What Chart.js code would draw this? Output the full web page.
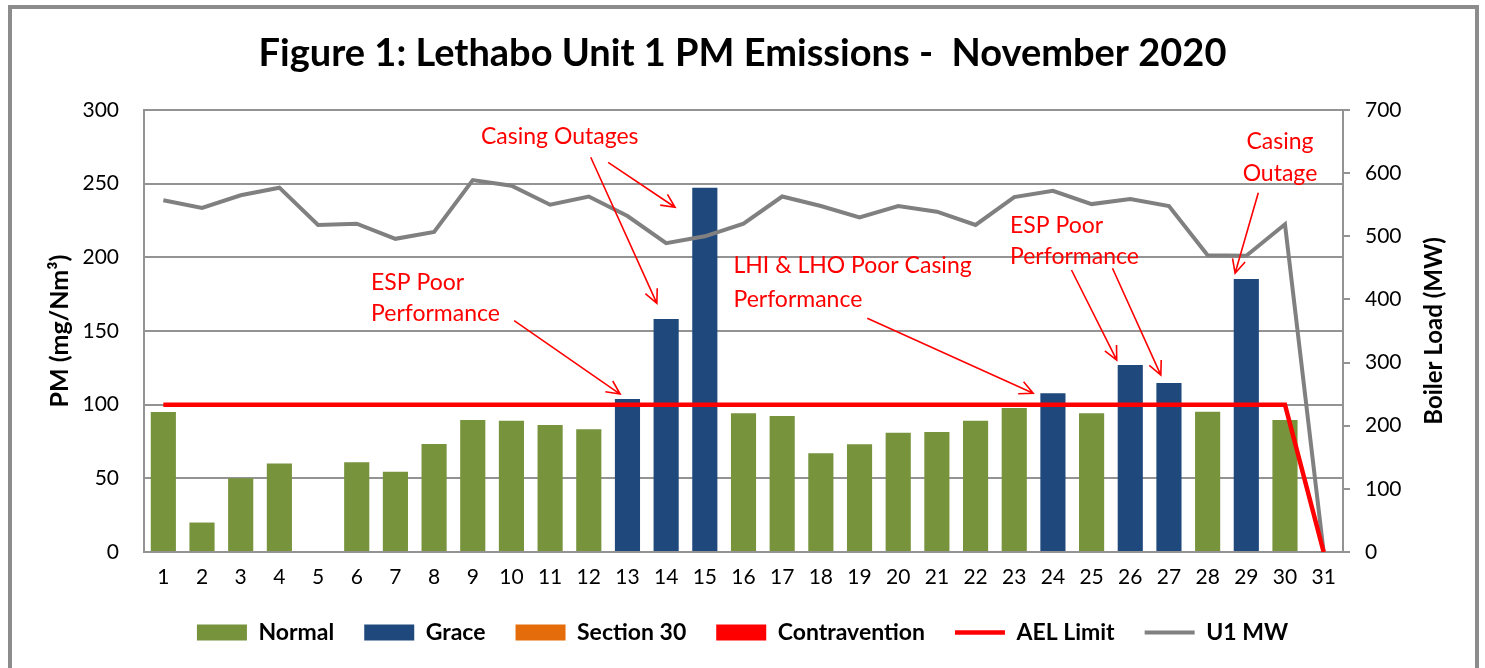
<!DOCTYPE html>
<html>
<head>
<meta charset="utf-8">
<script src="https://cdn.jsdelivr.net/npm/chart.js@4.4.1/dist/chart.umd.min.js"></script>
<style>
  html, body { margin: 0; padding: 0; background: #fff; overflow: hidden; }
  #wrap { position: relative; width: 1485px; height: 668px; }
  #chart { position: absolute; left: 0; top: 0; }
  #frame { position: absolute; left: 8px; top: 5px; width: 1471px; height: 720px; border: 4px solid #8c8c8c; box-sizing: border-box; pointer-events: none; }
</style>
</head>
<body>
<div id="wrap">
  <canvas id="chart" width="1485" height="668"></canvas>
  <div id="frame"></div>
</div>
<script>
// Lethabo Unit 1 PM emissions, November 2020.
const days = ['1','2','3','4','5','6','7','8','9','10','11','12','13','14','15','16','17','18','19','20','21','22','23','24','25','26','27','28','29','30','31'];
const normal = [95, 20, 50, 60, null, 61, 54.5, 73.3, 89.6, 89.1, 86.2, 83.3, null, null, null, 94.1, 92.3, 67, 73.1, 81, 81.4, 89.1, 97.7, null, 94.1, null, null, 95.2, null, 89.6, null];
const grace = [null, null, null, null, null, null, null, null, null, null, null, null, 103.8, 158.1, 247.3, null, null, null, null, null, null, null, null, 107.7, null, 126.9, 114.7, null, 185.3, null, null];
const section30 = days.map(() => null);
const contravention = days.map(() => null);
const aelLimit = [100, 100, 100, 100, 100, 100, 100, 100, 100, 100, 100, 100, 100, 100, 100, 100, 100, 100, 100, 100, 100, 100, 100, 100, 100, 100, 100, 100, 100, 100, 0];
const u1MW = [557, 545, 565, 577, 518, 520, 496, 507, 589, 580, 550, 563, 532, 489, 500, 520, 563, 548, 530, 548, 539, 518, 562, 572, 551, 559, 548, 470, 469, 519, 0];
const pmTicks = [0, 50, 100, 150, 200, 250, 300];
const mwTicks = [0, 100, 200, 300, 400, 500, 600, 700];

// red call-outs, anchored in data units (x = day index, y = PM)
const noteText = [['Casing Outages'], ['ESP Poor', 'Performance'], ['LHI & LHO Poor Casing', 'Performance'], ['ESP Poor', 'Performance'], ['Casing', 'Outage']];
const noteX = [10.25, 5.37, 14.74, 21.89, 28.87];
const noteY = [[281.7], [182.8, 162], [194.3, 171], [221.3, 200.4], [278.5, 256.6]];
const noteAlign = ['center', 'left', 'left', 'left', 'center'];
const arrowFrom = [[11.05, 267.9], [11.5, 264.5], [9.07, 157], [18.2, 158.6], [23.48, 191.4], [24.54, 192.6], [28.31, 243.9]];
const arrowTo = [[12.76, 168.8], [13.23, 234], [11.81, 107.2], [22.49, 107.7], [24.65, 130.3], [25.79, 120.1], [27.71, 189.2]];

const RED = '#ff0000';
const GRID = '#939393';
const FONT = 'Lato, "Open Sans", sans-serif';

const callouts = {
  id: 'callouts',
  afterDatasetsDraw(c) {
    const { ctx, scales: { x, y } } = c;
    ctx.save();
    ctx.fillStyle = RED; ctx.strokeStyle = RED;
    ctx.font = '23px ' + FONT;
    ctx.textBaseline = 'middle';
    noteText.forEach((lines, i) => {
      ctx.textAlign = noteAlign[i];
      lines.forEach((t, j) => ctx.fillText(t, x.getPixelForValue(noteX[i]), y.getPixelForValue(noteY[i][j])));
    });
    ctx.lineWidth = 1.6;
    arrowFrom.forEach((f, i) => {
      const x0 = x.getPixelForValue(f[0]), y0 = y.getPixelForValue(f[1]);
      const x1 = x.getPixelForValue(arrowTo[i][0]), y1 = y.getPixelForValue(arrowTo[i][1]);
      const a = Math.atan2(y1 - y0, x1 - x0), h = 15, s = 0.45;
      ctx.beginPath();
      ctx.moveTo(x0, y0); ctx.lineTo(x1, y1);
      ctx.moveTo(x1 - h * Math.cos(a - s), y1 - h * Math.sin(a - s));
      ctx.lineTo(x1, y1);
      ctx.lineTo(x1 - h * Math.cos(a + s), y1 - h * Math.sin(a + s));
      ctx.stroke();
    });
    ctx.restore();
  }
};

// right axis title reads bottom-to-top like the left one
const rightTitle = {
  id: 'rightTitle',
  afterDraw(c) {
    const { ctx, chartArea } = c;
    ctx.save();
    ctx.translate(c.scales.y1.right - 51, (chartArea.top + chartArea.bottom) / 2);
    ctx.rotate(-Math.PI / 2);
    ctx.fillStyle = '#000';
    ctx.font = 'bold 24px ' + FONT;
    ctx.textAlign = 'center'; ctx.textBaseline = 'middle';
    ctx.fillText('Boiler Load (MW)', 0, 0);
    ctx.restore();
  }
};

const bar = (label, data, color) => ({ type: 'bar', label, data, backgroundColor: color, borderWidth: 0, pointStyle: 'rect', yAxisID: 'y', grouped: false, barPercentage: 0.65, categoryPercentage: 1, order: 2 });
const line = (label, data, color, w, axis) => ({ type: 'line', label, data, borderColor: color, backgroundColor: color, borderWidth: w, pointRadius: 0, pointStyle: 'line', tension: 0, yAxisID: axis, order: 1 });

new Chart(document.getElementById('chart'), {
  data: {
    labels: days,
    datasets: [
      bar('Normal', normal, '#77933c'),
      bar('Grace', grace, '#1f497d'),
      bar('Section 30', section30, '#e46c0a'),
      bar('Contravention', contravention, '#ff0000'),
      line('AEL Limit', aelLimit, RED, 4.5, 'y'),
      line('U1 MW', u1MW, '#808080', 4, 'y1'),
    ],
  },
  options: {
    responsive: false, animation: false, devicePixelRatio: 1,
    layout: { padding: { left: 0, right: 0, top: 0, bottom: 14 } },
    plugins: {
      title: { display: true, text: 'Figure 1: Lethabo Unit 1 PM Emissions -  November 2020', color: '#000', font: { family: FONT, size: 38, weight: 'bold' }, padding: { top: 30.5, bottom: 33.9 } },
      legend: {
        position: 'bottom',
        labels: { usePointStyle: true, pointStyleWidth: 50, boxHeight: 16, padding: 30, color: '#000', font: { family: FONT, size: 23, weight: 'bold' }, sort: (a, b) => a.datasetIndex - b.datasetIndex },
      },
      tooltip: { enabled: false },
    },
    scales: {
      x: {
        grid: { display: false, drawTicks: false },
        border: { display: true, color: GRID, width: 2 },
        ticks: { color: '#000', font: { family: FONT, size: 21 }, padding: 13, maxRotation: 0 },
        afterFit: (s) => { s.height = 39; },
      },
      y: {
        position: 'left', min: 0, max: 300,
        afterBuildTicks: (s) => { s.ticks = pmTicks.map((v) => ({ value: v })); },
        grid: { color: GRID, lineWidth: 2, drawTicks: false },
        border: { display: true, color: GRID, width: 2 },
        ticks: { color: '#000', font: { family: FONT, size: 21 }, padding: 25 },
        title: { display: true, text: 'PM (mg/Nm³)', color: '#000', font: { family: FONT, size: 25, weight: 'bold' }, padding: { top: 45, bottom: 0 } },
        afterFit: (s) => { s.width = 144; },
      },
      y1: {
        position: 'right', min: 0, max: 700,
        afterBuildTicks: (s) => { s.ticks = mwTicks.map((v) => ({ value: v })); },
        grid: { drawOnChartArea: false, color: GRID, lineWidth: 2, tickLength: 7 },
        border: { display: true, color: GRID, width: 2 },
        ticks: { color: '#000', font: { family: FONT, size: 21 }, padding: 15 },
        afterFit: (s) => { s.width = 142; },
      },
    },
  },
  plugins: [callouts, rightTitle],
});
</script>
</body>
</html>
